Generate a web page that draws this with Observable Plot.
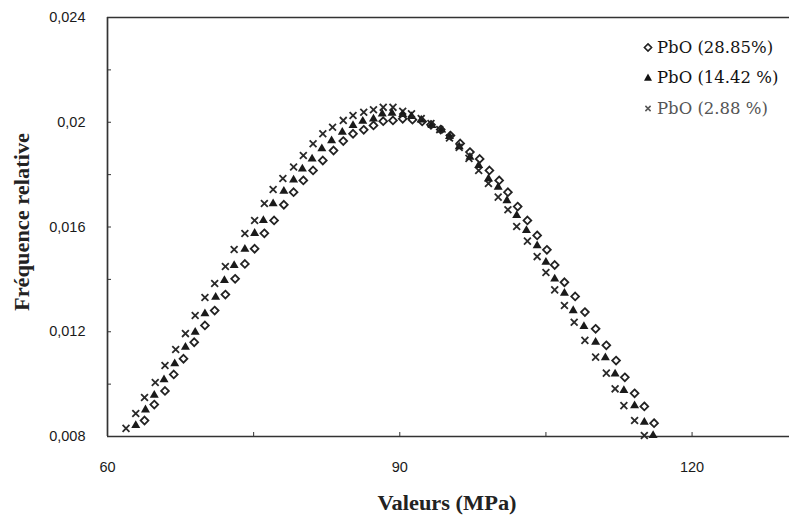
<!DOCTYPE html>
<html><head><meta charset="utf-8">
<script src="https://cdn.jsdelivr.net/npm/d3@7"></script>
<script src="https://cdn.jsdelivr.net/npm/@observablehq/plot@0.6"></script>
<style>
body{margin:0;background:#fff;overflow:hidden}
#wrap{position:relative;width:789px;height:524px;background:#fff}
.title{position:absolute;font-family:"Liberation Serif","Times New Roman",serif;font-weight:bold;font-size:20px;color:#222;white-space:nowrap;transform:translate(-50%,-50%) scaleX(1.12)}
.leg{position:absolute;font-family:"DejaVu Serif",serif;font-size:16.5px;white-space:nowrap;transform:translateY(-50%);display:flex;align-items:center}
.leg svg{margin-right:4px}
</style></head>
<body><div id="wrap"></div>
<script>
const xDomain = [60, 130];
const yDomain = [0.008, 0.024];
const xTicks = [60, 90, 120];
const xMinorTicks = [75, 105];
const yTicks = [0.008, 0.012, 0.016, 0.02, 0.024];
const yMinorTicks = [0.01, 0.014, 0.018, 0.022];
const xTitle = "Valeurs (MPa)";
const yTitle = "Fréquence relative";
const seriesNames = ["PbO (28.85%)", "PbO (14.42 %)", "PbO (2.88 %)"];

// PbO 28.85% (open diamonds)
const xA = [63.8,64.8,65.9,66.8,67.8,68.9,70.0,71.0,72.1,73.1,74.1,75.1,76.1,77.1,78.1,79.1,80.1,81.1,82.1,83.2,84.2,85.2,86.3,87.3,88.3,89.3,90.3,91.3,92.3,93.2,94.2,95.2,96.2,97.2,98.2,99.2,100.2,101.1,102.1,103.1,104.1,105.1,105.9,106.9,108.0,109.0,110.1,111.2,112.2,113.1,114.1,115.1,116.1];
const yA = [0.00861,0.00922,0.00974,0.01037,0.01097,0.01160,0.01224,0.01281,0.01342,0.01402,0.01459,0.01517,0.01576,0.01625,0.01685,0.01733,0.01778,0.01816,0.01854,0.01892,0.01928,0.01956,0.01971,0.01988,0.02004,0.02007,0.02013,0.02010,0.02003,0.01990,0.01972,0.01949,0.01919,0.01886,0.01860,0.01816,0.01778,0.01733,0.01678,0.01625,0.01568,0.01513,0.01455,0.01389,0.01335,0.01275,0.01211,0.01148,0.01090,0.01026,0.00965,0.00915,0.00851];

// PbO 14.42% (filled triangles)
const xB = [62.9,63.9,64.8,65.8,66.9,68.0,69.0,70.0,71.1,72.0,73.0,74.1,75.1,76.0,77.0,78.1,79.1,80.0,81.0,82.0,83.0,84.1,85.2,86.2,87.3,88.2,89.2,90.3,91.2,92.2,93.3,94.3,95.1,96.1,97.2,98.1,99.1,100.1,101.0,102.0,103.0,104.1,105.0,105.9,106.9,107.8,108.9,110.1,111.1,112.1,113.0,114.1,115.1,116.0];
const yB = [0.00842,0.00902,0.00958,0.01017,0.01078,0.01141,0.01198,0.01269,0.01332,0.01396,0.01453,0.01515,0.01576,0.01625,0.01689,0.01737,0.01780,0.01822,0.01860,0.01899,0.01930,0.01962,0.01988,0.02004,0.02013,0.02032,0.02035,0.02030,0.02022,0.02009,0.01988,0.01971,0.01946,0.01907,0.01867,0.01835,0.01784,0.01752,0.01701,0.01644,0.01587,0.01529,0.01466,0.01402,0.01347,0.01281,0.01220,0.01160,0.01101,0.01039,0.00976,0.00918,0.00855,0.00804];

// PbO 2.88% (crosses)
const xC = [61.9,62.9,63.8,64.9,65.9,67.0,68.0,69.0,70.0,71.0,72.1,73.0,74.1,75.1,76.1,77.0,78.0,79.1,80.1,81.1,82.1,83.1,84.2,85.2,86.3,87.3,88.3,89.3,90.3,91.2,92.2,93.2,94.1,95.1,96.1,97.1,98.1,99.1,100.1,101.1,102.0,103.1,104.1,105.0,105.9,106.9,107.9,109.0,110.1,111.2,112.1,113.0,114.1,115.1];
const yC = [0.00831,0.00888,0.00949,0.01006,0.01071,0.01132,0.01193,0.01262,0.01331,0.01384,0.01449,0.01514,0.01575,0.01625,0.01690,0.01743,0.01785,0.01829,0.01873,0.01918,0.01956,0.01981,0.02007,0.02026,0.02038,0.02048,0.02057,0.02057,0.02042,0.02032,0.02014,0.01995,0.01972,0.01940,0.01904,0.01862,0.01816,0.01766,0.01714,0.01666,0.01602,0.01546,0.01487,0.01426,0.01360,0.01300,0.01236,0.01167,0.01103,0.01042,0.00982,0.00918,0.00861,0.00804];

const toRows = (xs, ys, s) => xs.map((x, i) => ({series: s, x, y: ys[i]}));
const dataA = toRows(xA, yA, seriesNames[0]);
const dataB = toRows(xB, yB, seriesNames[1]);
const dataC = toRows(xC, yC, seriesNames[2]);

const axisColor = "#333";
const fmt = d => String(d).replace(".", ",");

const chart = Plot.plot({
  width: 789, height: 524,
  marginLeft: 107, marginRight: 0, marginTop: 17, marginBottom: 88,
  x: {domain: xDomain},
  y: {domain: yDomain},
  style: {fontFamily: "'Liberation Sans', Arial, sans-serif", fontSize: "14.5px", color: "#1a1a1a", background: "#fff", overflow: "visible"},
  marks: [
    Plot.ruleY([yDomain[1]], {stroke: axisColor, strokeWidth: 1.7}),
    Plot.ruleY([yDomain[0]], {stroke: axisColor, strokeWidth: 1.7}),
    Plot.ruleX([xDomain[0]], {stroke: axisColor, strokeWidth: 1.7}),
    Plot.axisY([...yTicks, ...yMinorTicks], {tickSize: -4, tickFormat: () => "", label: null, stroke: axisColor}),
    Plot.axisY(yTicks, {tickSize: 0, tickPadding: 22, tickFormat: fmt, label: null}),
    Plot.axisX([...xTicks, ...xMinorTicks], {tickSize: -4, tickFormat: () => "", label: null, stroke: axisColor}),
    Plot.axisX(xTicks, {tickSize: 0, tickPadding: 25, label: null}),
    Plot.dot(dataC, {x: "x", y: "y", symbol: "times", r: 3.2, stroke: "#2a2a2a", strokeWidth: 1.8}),
    Plot.dot(dataB, {x: "x", y: "y", symbol: "triangle2", r: 4.3, fill: "#1a1a1a", stroke: "none"}),
    Plot.dot(dataA, {x: "x", y: "y", symbol: "diamond2", r: 3.5, fill: "none", stroke: "#222", strokeWidth: 1.8})
  ]
});

const wrap = document.getElementById("wrap");
chart.style.position = "absolute";
chart.style.left = "0px";
chart.style.top = "0px";
wrap.appendChild(chart);

function addDiv(cls, text, css) {
  const d = document.createElement("div");
  d.className = cls;
  d.textContent = text;
  Object.assign(d.style, css);
  wrap.appendChild(d);
  return d;
}
addDiv("title", xTitle, {left: "447px", top: "503px"});
addDiv("title", yTitle, {left: "22px", top: "222px", transform: "translate(-50%,-50%) rotate(-90deg) scaleX(1.12)"});

const legendSymbols = [
  '<svg width="10" height="10" viewBox="-5 -5 10 10"><path d="M0,-3.6L3.6,0L0,3.6L-3.6,0Z" fill="none" stroke="#222" stroke-width="1.6"/></svg>',
  '<svg width="10" height="10" viewBox="-5 -5 10 10"><path d="M0,-4L4,3.2L-4,3.2Z" fill="#111"/></svg>',
  '<svg width="10" height="10" viewBox="-5 -5 10 10"><path d="M-2.6,-2.6L2.6,2.6M2.6,-2.6L-2.6,2.6" stroke="#555" stroke-width="1.5"/></svg>'
];
const legendColors = ["#151515", "#111", "#555"];
const legendTops = [47, 77, 108];
seriesNames.forEach((name, i) => {
  const d = document.createElement("div");
  d.className = "leg";
  d.style.left = "643px";
  d.style.top = legendTops[i] + "px";
  d.style.color = legendColors[i];
  d.innerHTML = legendSymbols[i];
  const span = document.createElement("span");
  span.textContent = name;
  d.appendChild(span);
  wrap.appendChild(d);
});
</script>
</body></html>
